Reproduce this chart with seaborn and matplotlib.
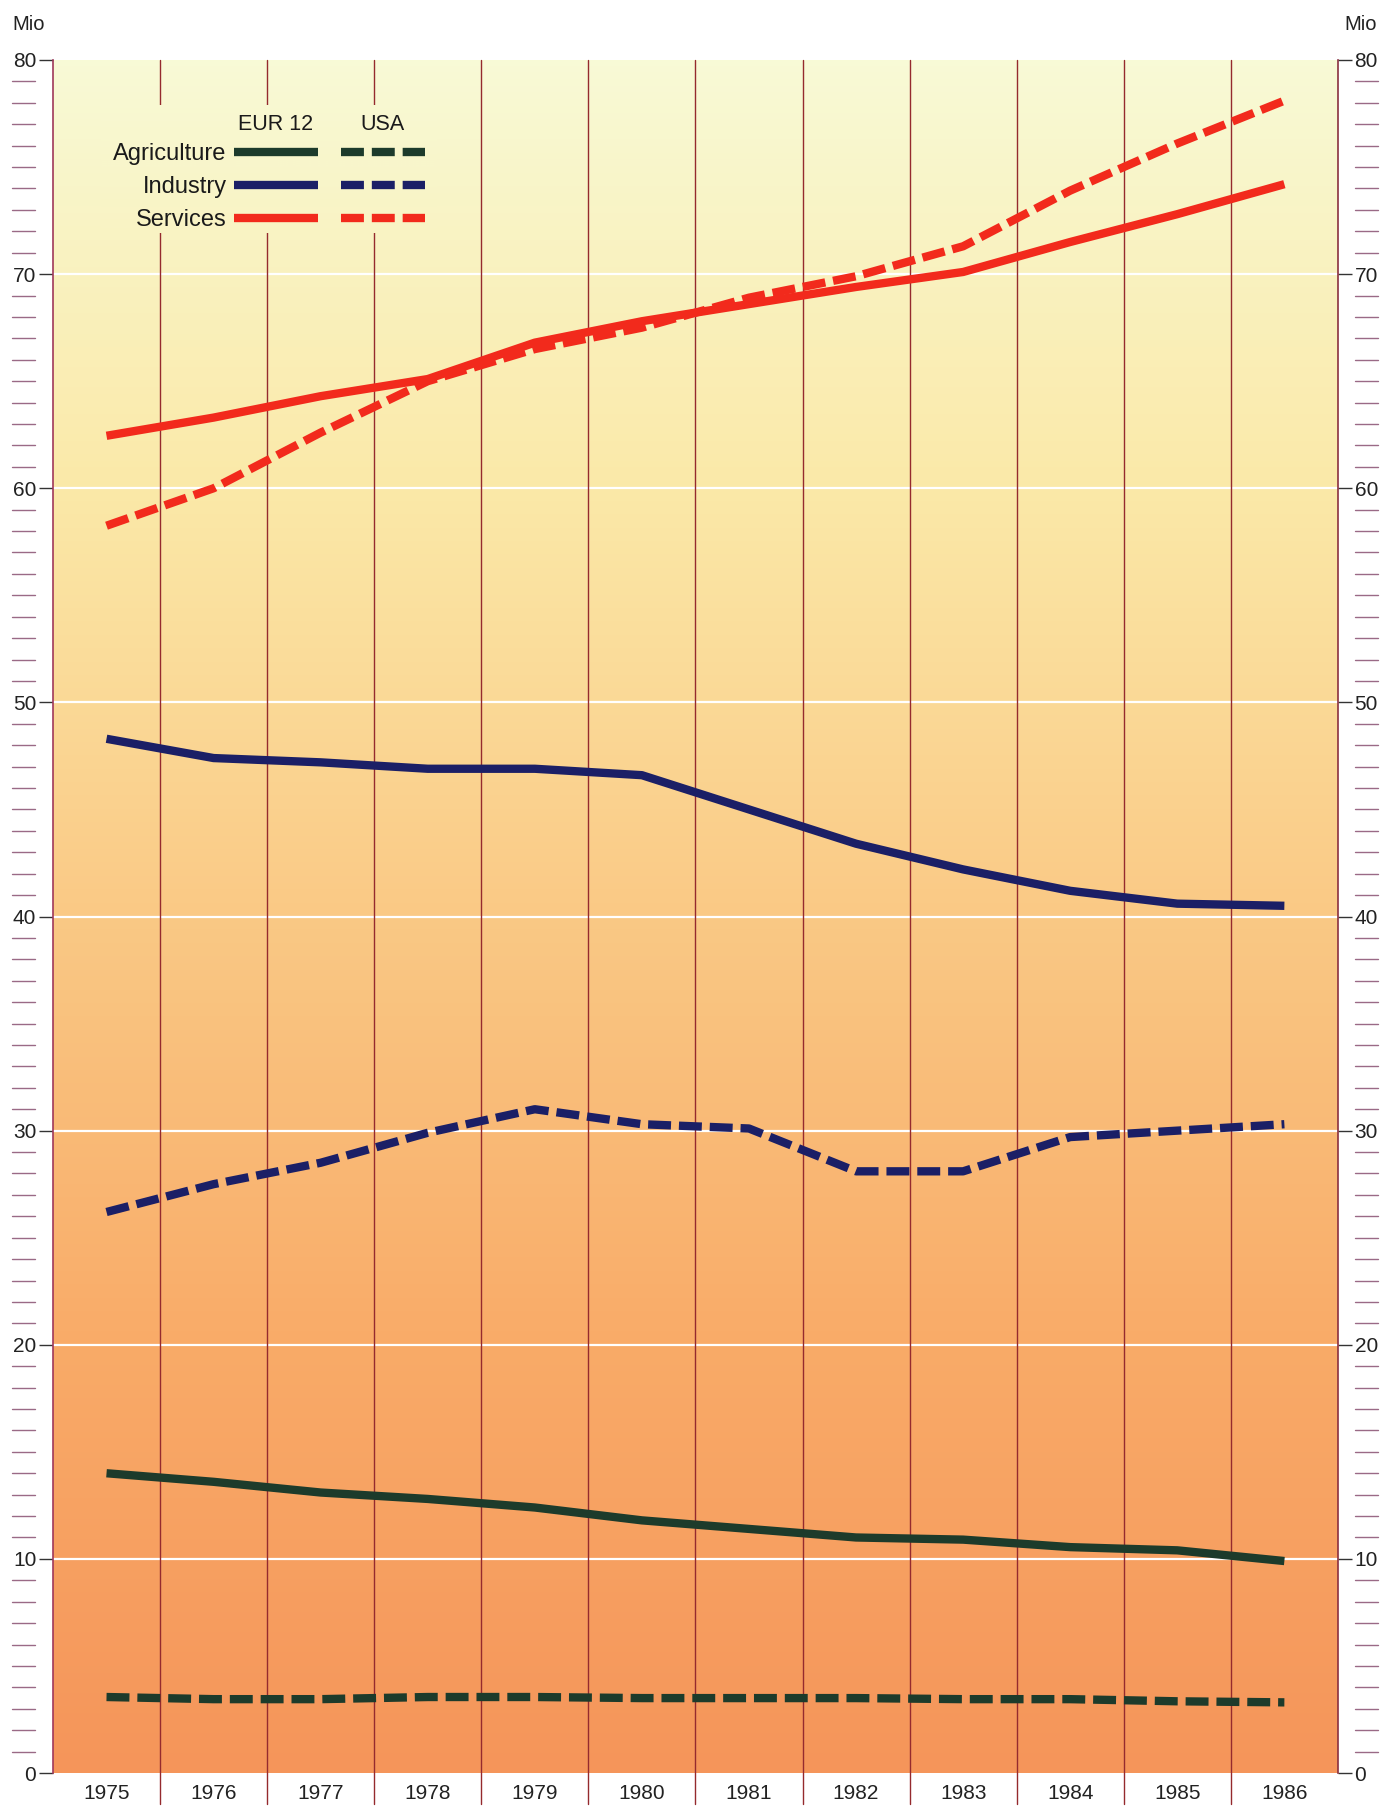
import matplotlib
matplotlib.use("Agg")
import matplotlib.pyplot as plt
import matplotlib.transforms as mtransforms
from matplotlib.colors import LinearSegmentedColormap
import seaborn as sns
import numpy as np
import pandas as pd

# Employment by sector, EUR 12 vs USA (millions)
years = [1975, 1976, 1977, 1978, 1979, 1980, 1981, 1982, 1983, 1984, 1985, 1986]
eur_agriculture = [14.0, 13.6, 13.1, 12.8, 12.4, 11.8, 11.4, 11.0, 10.9, 10.55, 10.4, 9.9]
eur_industry = [48.3, 47.4, 47.2, 46.9, 46.9, 46.6, 45.0, 43.4, 42.2, 41.2, 40.6, 40.5]
eur_services = [62.45, 63.3, 64.3, 65.1, 66.8, 67.8, 68.6, 69.4, 70.1, 71.5, 72.8, 74.2]
usa_agriculture = [3.55, 3.45, 3.45, 3.55, 3.55, 3.5, 3.5, 3.5, 3.45, 3.45, 3.35, 3.3]
usa_industry = [26.2, 27.5, 28.5, 29.9, 31.0, 30.3, 30.1, 28.1, 28.1, 29.7, 30.0, 30.3]
usa_services = [58.25, 60.0, 62.6, 65.0, 66.5, 67.5, 68.9, 69.9, 71.3, 73.9, 76.1, 78.1]
sectors = ["Agriculture", "Industry", "Services"]
colors = {"Agriculture": "#1d3b2b", "Industry": "#1b1f66", "Services": "#f22a1c"}

rows = []
for sec, e, u in zip(sectors, [eur_agriculture, eur_industry, eur_services],
                     [usa_agriculture, usa_industry, usa_services]):
    for y, ev, uv in zip(years, e, u):
        rows.append((y, sec, "EUR 12", ev))
        rows.append((y, sec, "USA", uv))
df = pd.DataFrame(rows, columns=["year", "sector", "region", "value"])

sns.set_style("white")
plt.rcParams["font.family"] = ["Liberation Sans", "DejaVu Sans"]

fig = plt.figure(figsize=(13.87, 18.07), dpi=100)
ax = fig.add_axes([0.0382, 0.0188, 0.9264, 0.948])

x0, x1 = years[0] - 0.5, years[-1] + 0.5
ymax = 80

# gradient background
bg = LinearSegmentedColormap.from_list("bg", [
    (0.0, "#f5955a"), (0.25, "#f9ab68"), (0.5, "#fac985"),
    (0.75, "#fbe9a8"), (1.0, "#f8fad6")])
grad = np.linspace(0, 1, 512).reshape(-1, 1)
ax.imshow(grad, aspect="auto", cmap=bg, origin="lower", vmin=0, vmax=1,
          extent=[x0, x1, 0, ymax], zorder=0)

# white horizontal grid
for v in range(10, ymax, 10):
    ax.axhline(v, color="white", lw=1.6, zorder=1)

# vertical column dividers, extending below the plot
for b in np.arange(x0 + 1, x1, 1.0):
    ax.axvline(b, ymin=-0.018, ymax=1, color="#952a2e", lw=1.0,
               clip_on=False, zorder=1)

# lines
for sec in sectors:
    sub = df[df.sector == sec]
    sns.lineplot(data=sub[sub.region == "EUR 12"], x="year", y="value",
                 color=colors[sec], lw=6, ax=ax, zorder=3,
                 solid_capstyle="butt")
    sns.lineplot(data=sub[sub.region == "USA"], x="year", y="value",
                 color=colors[sec], lw=6, ax=ax, zorder=3,
                 dashes=(2.75, 0.95), dash_capstyle="butt")

ax.set_xlim(x0, x1)
ax.set_ylim(0, ymax)

# axes styling
for s in ["top", "bottom"]:
    ax.spines[s].set_visible(False)
ax.spines["left"].set_color("#a0385a")
ax.spines["right"].set_color("#8a3040")
ax.spines["left"].set_linewidth(1.2)
ax.spines["right"].set_linewidth(1.2)
ax.set_xticks(years)
ax.set_xticklabels([str(y) for y in years], fontsize=15, color="#222222")
ax.tick_params(axis="x", length=0, pad=8)
ax.set_yticks(range(0, ymax + 1, 10))
ax.tick_params(axis="y", which="major", direction="out", length=10, width=1,
               color="#333333", labelsize=15, left=True, right=True,
               labelleft=True, labelright=True, pad=2, labelcolor="#222222")
ax.set_xlabel("")
ax.set_ylabel("")

# detached minor tick marks
tl = mtransforms.blended_transform_factory(fig.transFigure, ax.transData)
for v in range(1, ymax):
    if v % 10 == 0:
        continue
    ax.plot([12 / 1387, 35 / 1387], [v, v], transform=tl, color="#9a6a86",
            lw=1, clip_on=False)
    ax.plot([1355 / 1387, 1378 / 1387], [v, v], transform=tl, color="#9a6a86",
            lw=1, clip_on=False)

fig.text(12 / 1387, 1 - 25 / 1807, "Mio", fontsize=14.5, va="center", ha="left",
         color="#222222")
fig.text(1377 / 1387, 1 - 25 / 1807, "Mio", fontsize=14.5, va="center",
         ha="right", color="#222222")

# legend
line_objs = [l for l in ax.get_lines() if l.get_linewidth() == 6]
eur_h = line_objs[0::2]
usa_h = line_objs[1::2]
leg = ax.legend(eur_h + usa_h, sectors + ["", "", ""], ncol=2,
                markerfirst=False, loc="upper right",
                bbox_to_anchor=(0.2895, 0.9515), frameon=False,
                fontsize=17, handlelength=3.56, handletextpad=0.3,
                columnspacing=0.68, labelspacing=0.47, borderpad=0,
                borderaxespad=0)
leg.set_zorder(5)
for t in leg.get_texts():
    t.set_color("#1a1a1a")

fig.canvas.draw()
r = fig.canvas.get_renderer()
inv = ax.transAxes.inverted()
hl = leg.get_lines()
bb_e = hl[0].get_window_extent(r)
bb_u = hl[3].get_window_extent(r)
row_y = (bb_e.y0 + bb_e.y1) / 2
for bb, name in [(bb_e, "EUR 12"), (bb_u, "USA")]:
    cx, cy = inv.transform(((bb.x0 + bb.x1) / 2, row_y + 27))
    ax.text(cx, cy, name, transform=ax.transAxes, fontsize=15.5, ha="center",
            va="center", color="#1a1a1a", zorder=6)

# same gradient laid over the dividers behind the legend block
lb = leg.get_window_extent(r)
dinv = ax.transData.inverted()
(px0, py0) = dinv.transform((lb.x0 - 12, lb.y0 - 2))
(px1, py1) = dinv.transform((lb.x1 + 12, row_y + 46))
patch_grad = np.linspace(py0 / ymax, py1 / ymax, 64).reshape(-1, 1)
ax.imshow(patch_grad, aspect="auto", cmap=bg, origin="lower", vmin=0, vmax=1,
          extent=[px0, px1, py0, py1], zorder=2)
ax.set_xlim(x0, x1)
ax.set_ylim(0, ymax)

fig.savefig("out.png", dpi=100, facecolor="white")
